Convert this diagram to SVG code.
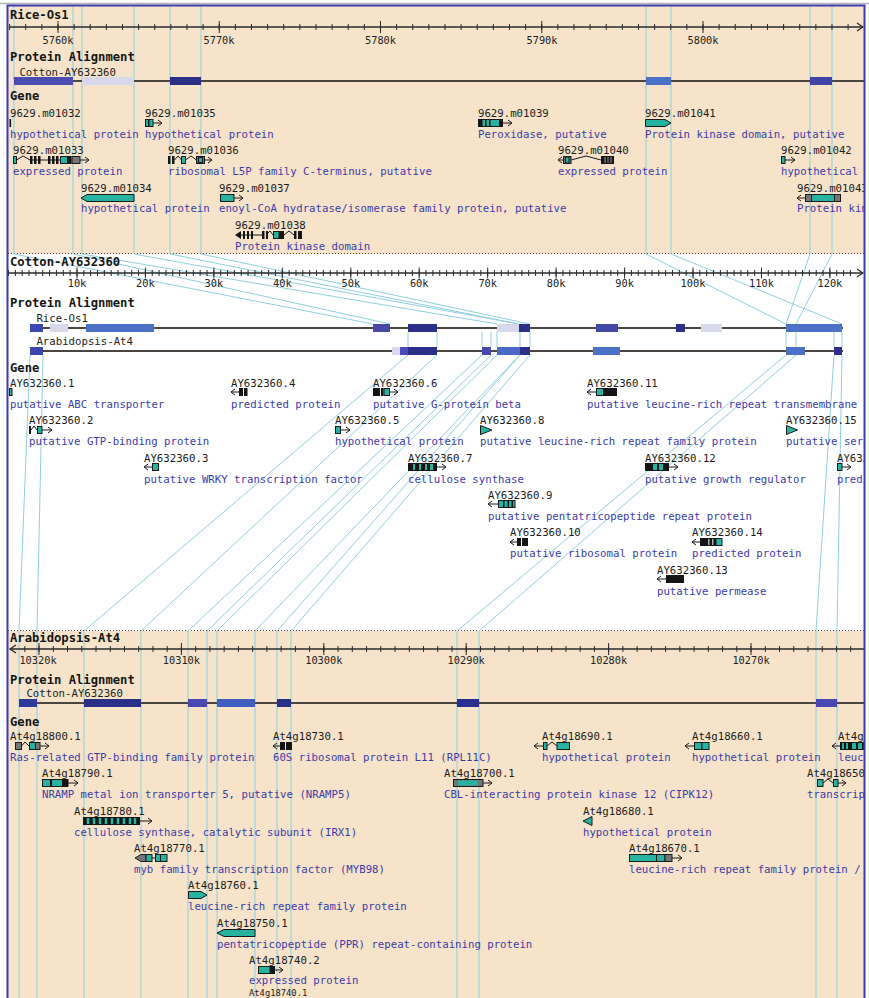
<svg xmlns="http://www.w3.org/2000/svg" width="869" height="998" viewBox="0 0 869 998">
<defs>
<style>
.lbl{font-family:"DejaVu Sans Mono",monospace;font-size:12.2px;font-weight:bold;fill:#141414}
.nm{font-family:"DejaVu Sans Mono",monospace;font-size:10.7px;fill:#1c1c1c}
.ds{font-family:"DejaVu Sans Mono",monospace;font-size:10.7px;fill:#3c3ca8}
.ax{font-family:"DejaVu Sans Mono",monospace;font-size:10.3px;fill:#222;text-anchor:middle}
.ex{fill:#27b3a2;stroke:#1a1a1a;stroke-width:1}
.bk{fill:#151515}
.gy{fill:#767676;stroke:#1a1a1a;stroke-width:1}
.ln{stroke:#1a1a1a;fill:none;stroke-width:1}
.axl{stroke:#2a2a2a;fill:none;stroke-width:1.3}
.tk{stroke:#2a2a2a;fill:none;stroke-width:1}
.al{stroke:#4a4540;stroke-width:2}
.cn{stroke:#8fd0e0;stroke-width:1;fill:none}
.sep{stroke:#444;stroke-width:1;stroke-dasharray:1 2}
</style>
<clipPath id="clip"><rect x="8" y="6" width="856" height="992"/></clipPath>
</defs>
<rect x="0" y="0" width="869" height="998" fill="#ffffff"/>
<line x1="0" y1="3.5" x2="869" y2="3.5" stroke="#b4b4b4" stroke-width="1.5"/>
<g id="backgrounds">
<rect x="8" y="6" width="856" height="248" fill="#f6e3c9"/>
<rect x="8" y="254" width="856" height="377" fill="#ffffff"/>
<rect x="8" y="631" width="856" height="367" fill="#f6e3c9"/>
<line class="sep" x1="8" y1="253.5" x2="864" y2="253.5"/>
<line class="sep" x1="8" y1="630.5" x2="864" y2="630.5"/>
</g>
<g id="connectors" class="cn">
<path d="M14 6V254M73 6V254M82 6V254M134 6V254M170 6V254M201 6V254M646 6V254M671 6V254M810 6V254M832 6V254"/>
<path d="M14 254L373 324M73 254L390 324M82 254L497 324M134 254L519 324M170 254L519 324M201 254L530 324M646 254L786 324M671 254L842 324M810 254L786 324M832 254L796 324"/>
<path d="M408 332V347M437 332V347M482 332V347M491 332V347M497 332V347M520 332V347M530 332V347M786 332V347M796 332V347M834 332V347M842 332V347"/>
<path d="M30 355L19 631M43 355L37 631M408 355L84 631M437 355L141 631M482 355L188 631M491 355L207 631M497 355L217 631M520 355L255 631M520 355L277 631M530 355L291 631M786 355L457 631M796 355L479 631M834 355L816 631M842 355L837 631"/>
<path d="M19 631V998M37 631V998M84 631V998M141 631V998M188 631V998M207 631V998M217 631V998M255 631V998M277 631V998M291 631V998M457 631V998M479 631V998M816 631V998M837 631V998"/>
</g>
<g clip-path="url(#clip)">
<g id="rice-panel">
<text class="lbl" x="10" y="19">Rice-Os1</text>
<line class="axl" x1="10" y1="27" x2="863" y2="27"/>
<path class="axl" d="M857 23L863 27L857 31"/>
<line x1="9.1" y1="27" x2="850" y2="27" stroke="#2a2a2a" stroke-width="6" stroke-dasharray="1 15.125"/>
<path class="tk" d="M58 21V33M219.25 21V33M380.5 21V33M541.75 21V33M703 21V33"/>
<text class="ax" x="58" y="44">5760k</text>
<text class="ax" x="219" y="44">5770k</text>
<text class="ax" x="380.5" y="44">5780k</text>
<text class="ax" x="542" y="44">5790k</text>
<text class="ax" x="703" y="44">5800k</text>
<text class="lbl" x="10" y="61">Protein Alignment</text>
<text class="nm" x="13" y="76">_Cotton-AY632360</text>
<line class="al" x1="14" y1="81" x2="864" y2="81"/>
<rect x="14" y="77" width="59" height="8" fill="#4a4cb2"/>
<rect x="82" y="77" width="52" height="8" fill="#d8d8ec"/>
<rect x="170" y="77" width="31" height="8" fill="#2c2f86"/>
<rect x="646" y="77" width="25" height="8" fill="#4b72c6"/>
<rect x="810" y="77" width="22" height="8" fill="#4244a8"/>
<text class="lbl" x="10" y="100">Gene</text>
</g>
<g id="rice-genes">
<g id="g9629.m01032"><text class="nm" x="10" y="117">9629.m01032</text><rect class="bk" x="9.5" y="119" width="1.6" height="8"/><text class="ds" x="10" y="138">hypothetical protein</text></g>
<g id="g9629.m01035"><text class="nm" x="145" y="117">9629.m01035</text><rect class="ex" x="145.5" y="119.5" width="7.5" height="7"/><rect class="bk" x="148" y="119.5" width="1.5" height="7"/><path class="ln" d="M153 123H162M158 120L162 123L158 126"/><text class="ds" x="145" y="138">hypothetical protein</text></g>
<g id="g9629.m01039"><text class="nm" x="478" y="117">9629.m01039</text><rect class="ex" x="478.5" y="119.5" width="24" height="7"/><rect class="bk" x="478.5" y="119.5" width="4" height="7"/><rect class="bk" x="485" y="119.5" width="1.5" height="7"/><rect class="bk" x="489" y="119.5" width="1.5" height="7"/><rect class="bk" x="499" y="119.5" width="3.5" height="7"/><path class="ln" d="M502.5 123H512M508 120L512 123L508 126"/><text class="ds" x="478" y="138">Peroxidase, putative</text></g>
<g id="g9629.m01041"><text class="nm" x="645" y="117">9629.m01041</text><polygon class="ex" points="645.5,119.5 665,119.5 671,123 665,126.5 645.5,126.5"/><text class="ds" x="645" y="138">Protein kinase domain, putative</text></g>
<g id="g9629.m01033"><text class="nm" x="13" y="154">9629.m01033</text><rect class="ex" x="13.5" y="156.5" width="3" height="7"/><path class="ln" d="M16.5 160L23 156L30 160H61"/><rect class="bk" x="30" y="156" width="2.5" height="8"/><rect class="bk" x="34" y="156" width="2.5" height="8"/><rect class="bk" x="38" y="156" width="2.5" height="8"/><rect class="bk" x="48" y="156" width="2.5" height="8"/><rect class="bk" x="52" y="156" width="2.5" height="8"/><rect class="bk" x="56" y="156" width="2.5" height="8"/><rect class="ex" x="60.5" y="156.5" width="7" height="7"/><rect class="bk" x="67.5" y="156" width="4" height="8"/><rect class="gy" x="72" y="156.5" width="8" height="7"/><path class="ln" d="M80 160H89M85 157L89 160L85 163"/><text class="ds" x="13" y="175">expressed protein</text></g>
<g id="g9629.m01036"><text class="nm" x="168" y="154">9629.m01036</text><rect class="bk" x="168" y="156" width="2.5" height="8"/><rect class="bk" x="172" y="156" width="2.5" height="8"/><path class="ln" d="M174.5 160L178 156L181.5 160M185.5 160L191 156L196.5 160"/><rect class="ex" x="181.5" y="156.5" width="4" height="7"/><rect class="gy" x="196.5" y="156.5" width="8" height="7"/><rect class="ex" x="198.5" y="157.5" width="4" height="5"/><path class="ln" d="M204.5 160H212M208 157L212 160L208 163"/><text class="ds" x="168" y="175">ribosomal L5P family C-terminus, putative</text></g>
<g id="g9629.m01040"><text class="nm" x="558" y="154">9629.m01040</text><path class="ln" d="M558 160H563M562 157L558 160L562 163M571 160L586 156L601 160"/><rect class="gy" x="563.5" y="156.5" width="7.5" height="7"/><rect class="ex" x="565.5" y="157" width="3.5" height="6"/><rect class="bk" x="601" y="156" width="13" height="8"/><path stroke="#9a9a9a" stroke-width="1" d="M605 157V163M608 157V163M611 157V163"/><text class="ds" x="558" y="175">expressed protein</text></g>
<g id="g9629.m01042"><text class="nm" x="781" y="154">9629.m01042</text><rect class="ex" x="781.5" y="156.5" width="3.5" height="7"/><path class="ln" d="M785 160H795M791 157L795 160L791 163"/><text class="ds" x="781" y="175">hypothetical</text></g>
<g id="g9629.m01034"><text class="nm" x="81" y="192">9629.m01034</text><polygon class="ex" points="87,194.5 134,194.5 134,201.5 87,201.5 81,198"/><text class="ds" x="81" y="212">hypothetical protein</text></g>
<g id="g9629.m01037"><text class="nm" x="219" y="192">9629.m01037</text><rect class="ex" x="220.5" y="194.5" width="13.5" height="7"/><path class="ln" d="M234 198H243M239 195L243 198L239 201"/><text class="ds" x="219" y="212">enoyl-CoA hydratase/isomerase family protein, putative</text></g>
<g id="g9629.m01043"><text class="nm" x="797" y="192">9629.m01043</text><path class="ln" d="M797 198H805M801 195L797 198L801 201"/><rect class="gy" x="805.5" y="194.5" width="6" height="7"/><rect class="ex" x="811.5" y="194.5" width="23" height="7"/><rect class="gy" x="834.5" y="194.5" width="6" height="7"/><text class="ds" x="797" y="212">Protein kin</text></g>
<g id="g9629.m01038"><text class="nm" x="235" y="229">9629.m01038</text><polygon class="bk" points="235,235 241,231 241,239"/><path class="ln" d="M241 235H262M266 235L270 231L273 235M284 235L289 231L294 235"/><rect class="bk" x="243" y="231" width="2" height="8"/><rect class="bk" x="247" y="231" width="2" height="8"/><rect class="bk" x="251" y="231" width="2" height="8"/><rect class="bk" x="262" y="231" width="2.5" height="8"/><rect class="bk" x="266" y="231" width="2" height="8"/><rect class="ex" x="273.5" y="231.5" width="5.5" height="7"/><rect class="bk" x="279" y="231" width="5" height="8"/><rect class="bk" x="294" y="231" width="2.5" height="8"/><rect class="bk" x="298" y="231" width="4" height="8"/><text class="ds" x="235" y="250">Protein kinase domain</text></g>
</g>
<g id="cotton-panel">
<text class="lbl" x="10" y="266">Cotton-AY632360</text>
<line class="axl" x1="9" y1="273" x2="863" y2="273"/>
<path class="axl" d="M857 269L863 273L857 277"/>
<line x1="8" y1="273" x2="852" y2="273" stroke="#2a2a2a" stroke-width="6" stroke-dasharray="1 5.845"/>
<path class="tk" d="M77 267.5V278.5M145.4 267.5V278.5M213.9 267.5V278.5M282.3 267.5V278.5M350.8 267.5V278.5M419.2 267.5V278.5M487.7 267.5V278.5M556.1 267.5V278.5M624.6 267.5V278.5M693 267.5V278.5M761.5 267.5V278.5M829.9 267.5V278.5"/>
<text class="ax" x="77" y="287">10k</text>
<text class="ax" x="145.4" y="287">20k</text>
<text class="ax" x="213.9" y="287">30k</text>
<text class="ax" x="282.3" y="287">40k</text>
<text class="ax" x="350.8" y="287">50k</text>
<text class="ax" x="419.2" y="287">60k</text>
<text class="ax" x="487.7" y="287">70k</text>
<text class="ax" x="556.1" y="287">80k</text>
<text class="ax" x="624.6" y="287">90k</text>
<text class="ax" x="693" y="287">100k</text>
<text class="ax" x="761.5" y="287">110k</text>
<text class="ax" x="829.9" y="287">120k</text>
<text class="lbl" x="10" y="307">Protein Alignment</text>
<text class="nm" x="30" y="322">_Rice-Os1</text>
<line class="al" x1="30" y1="328" x2="843" y2="328"/>
<rect x="30" y="324" width="13" height="8" fill="#3a48b0"/>
<rect x="50" y="324" width="18" height="8" fill="#d8d8ec"/>
<rect x="86" y="324" width="68" height="8" fill="#4b72c6"/>
<rect x="373" y="324" width="17" height="8" fill="#4848a8"/>
<rect x="408" y="324" width="29" height="8" fill="#2c2f8a"/>
<rect x="497" y="324" width="22" height="8" fill="#d8d8ec"/>
<rect x="519" y="324" width="11" height="8" fill="#2c2f8a"/>
<rect x="596" y="324" width="22" height="8" fill="#4448a8"/>
<rect x="676" y="324" width="9" height="8" fill="#2c2f8a"/>
<rect x="701" y="324" width="21" height="8" fill="#d8d8ec"/>
<rect x="786" y="324" width="56" height="8" fill="#4b72c6"/>
<text class="nm" x="30" y="345">_Arabidopsis-At4</text>
<line class="al" x1="30" y1="351" x2="843" y2="351"/>
<rect x="30" y="347" width="13" height="8" fill="#3c44b0"/>
<rect x="392" y="347" width="8" height="8" fill="#d8d8ec"/>
<rect x="400" y="347" width="8" height="8" fill="#4a4ab8"/>
<rect x="408" y="347" width="29" height="8" fill="#2c2f8a"/>
<rect x="482" y="347" width="9" height="8" fill="#4848b0"/>
<rect x="497" y="347" width="23" height="8" fill="#4a6ac8"/>
<rect x="520" y="347" width="10" height="8" fill="#2c2f8a"/>
<rect x="593" y="347" width="27" height="8" fill="#4b72c6"/>
<rect x="786" y="347" width="19" height="8" fill="#4b72c6"/>
<rect x="834" y="347" width="8" height="8" fill="#2c2f8a"/>
<text class="lbl" x="10" y="372">Gene</text>
</g>
<g id="cotton-genes">
<g id="gAY632360.1"><text class="nm" x="10" y="387">AY632360.1</text><rect class="ex" x="9.5" y="388.5" width="2.5" height="7"/><text class="ds" x="10" y="408">putative ABC transporter</text></g>
<g id="gAY632360.4"><text class="nm" x="231" y="387">AY632360.4</text><path class="ln" d="M231 392H239M235 389L231 392L235 395"/><rect class="bk" x="239" y="388" width="4" height="8"/><rect class="bk" x="244" y="388" width="3.5" height="8"/><text class="ds" x="231" y="408">predicted protein</text></g>
<g id="gAY632360.6"><text class="nm" x="373" y="387">AY632360.6</text><rect class="bk" x="373" y="388" width="7" height="8"/><rect class="bk" x="381" y="388" width="2.5" height="8"/><rect class="ex" x="384" y="388.5" width="5.5" height="7"/><path class="ln" d="M389.5 392H398M394 389L398 392L394 395"/><text class="ds" x="373" y="408">putative G-protein beta</text></g>
<g id="gAY632360.11"><text class="nm" x="587" y="387">AY632360.11</text><path class="ln" d="M587 392H596M591 389L587 392L591 395"/><rect class="ex" x="596.5" y="388.5" width="7" height="7"/><rect class="bk" x="603.5" y="388" width="13.5" height="8"/><text class="ds" x="587" y="408">putative leucine-rich repeat transmembrane p</text></g>
<g id="gAY632360.2"><text class="nm" x="29" y="424">AY632360.2</text><rect class="bk" x="29" y="426" width="2" height="8"/><path class="ln" d="M31 430L34 426L37 430"/><rect class="ex" x="37.5" y="426.5" width="4.5" height="7"/><path class="ln" d="M42 430H52M48 427L52 430L48 433"/><text class="ds" x="29" y="445">putative GTP-binding protein</text></g>
<g id="gAY632360.5"><text class="nm" x="335" y="424">AY632360.5</text><rect class="ex" x="335.5" y="426.5" width="5" height="7"/><path class="ln" d="M340.5 430H350M346 427L350 430L346 433"/><text class="ds" x="335" y="445">hypothetical protein</text></g>
<g id="gAY632360.8"><text class="nm" x="480" y="424">AY632360.8</text><polygon class="ex" points="480.5,425.5 492,430 480.5,434.5"/><text class="ds" x="480" y="445">putative leucine-rich repeat family protein</text></g>
<g id="gAY632360.15"><text class="nm" x="786" y="424">AY632360.15</text><polygon class="ex" points="786.5,425.5 797.5,430 786.5,434.5"/><text class="ds" x="786" y="445">putative ser</text></g>
<g id="gAY632360.3"><text class="nm" x="144" y="462">AY632360.3</text><path class="ln" d="M144 467H152M148 464L144 467L148 470"/><rect class="ex" x="152.5" y="463.5" width="6" height="7"/><text class="ds" x="144" y="483">putative WRKY transcription factor</text></g>
<g id="gAY632360.7"><text class="nm" x="408" y="462">AY632360.7</text><rect class="bk" x="408" y="463" width="29" height="8"/><rect fill="#27b3a2" x="413" y="464" width="2" height="6"/><rect fill="#27b3a2" x="419" y="464" width="2" height="6"/><rect fill="#27b3a2" x="425" y="464" width="2" height="6"/><rect fill="#27b3a2" x="430" y="464" width="3" height="6"/><path class="ln" d="M437 467H446M442 464L446 467L442 470"/><text class="ds" x="408" y="483">cellulose synthase</text></g>
<g id="gAY632360.12"><text class="nm" x="645" y="462">AY632360.12</text><rect class="bk" x="645" y="463" width="24" height="8"/><rect fill="#27b3a2" x="653" y="464" width="4" height="6"/><rect fill="#27b3a2" x="659" y="464" width="4" height="6"/><path class="ln" d="M669 467H678M674 464L678 467L674 470"/><text class="ds" x="645" y="483">putative growth regulator</text></g>
<g id="gAY632360.16"><text class="nm" x="837" y="462">AY632</text><rect class="ex" x="837.5" y="463.5" width="4.5" height="7"/><path class="ln" d="M842 467H851M847 464L851 467L847 470"/><text class="ds" x="837" y="483">predi</text></g>
<g id="gAY632360.9"><text class="nm" x="488" y="499">AY632360.9</text><path class="ln" d="M488 504H498M492 501L488 504L492 507"/><rect class="ex" x="498.5" y="500.5" width="16.5" height="7"/><rect class="bk" x="503" y="500.5" width="1.5" height="7"/><rect class="bk" x="507.5" y="500.5" width="1.5" height="7"/><rect class="bk" x="511.5" y="500.5" width="1.5" height="7"/><text class="ds" x="488" y="520">putative pentatricopeptide repeat protein</text></g>
<g id="gAY632360.10"><text class="nm" x="510" y="536">AY632360.10</text><path class="ln" d="M510 542H517M514 539L510 542L514 545"/><rect class="bk" x="517" y="538" width="4" height="8"/><rect class="bk" x="522" y="538" width="6" height="8"/><text class="ds" x="510" y="557">putative ribosomal protein</text></g>
<g id="gAY632360.14"><text class="nm" x="692" y="536">AY632360.14</text><path class="ln" d="M692 542H700M696 539L692 542L696 545"/><rect class="bk" x="700" y="538" width="16" height="8"/><rect fill="#b0b0b0" x="708" y="539" width="1.5" height="6"/><rect fill="#b0b0b0" x="712" y="539" width="1.5" height="6"/><rect class="ex" x="716" y="538.5" width="6" height="7"/><text class="ds" x="692" y="557">predicted protein</text></g>
<g id="gAY632360.13"><text class="nm" x="657" y="574">AY632360.13</text><path class="ln" d="M657 579H666M661 576L657 579L661 582"/><rect class="bk" x="666" y="575" width="18" height="8"/><text class="ds" x="657" y="595">putative permease</text></g>
</g>
<g id="arabidopsis-panel">
<text class="lbl" x="10" y="642">Arabidopsis-At4</text>
<line class="axl" x1="10" y1="649" x2="864" y2="649"/>
<path class="axl" d="M16 645L10 649L16 653"/>
<line x1="24.3" y1="649" x2="864" y2="649" stroke="#2a2a2a" stroke-width="6" stroke-dasharray="1 13.24"/>
<path class="tk" d="M39 643V655M181.4 643V655M323.8 643V655M466.2 643V655M608.6 643V655M751 643V655"/>
<text class="ax" x="38" y="664">10320k</text>
<text class="ax" x="181.4" y="664">10310k</text>
<text class="ax" x="323.8" y="664">10300k</text>
<text class="ax" x="466.2" y="664">10290k</text>
<text class="ax" x="608.6" y="664">10280k</text>
<text class="ax" x="751" y="664">10270k</text>
<text class="lbl" x="10" y="684">Protein Alignment</text>
<text class="nm" x="20" y="697">_Cotton-AY632360</text>
<line class="al" x1="19" y1="703" x2="864" y2="703"/>
<rect x="19" y="699" width="18" height="8" fill="#2e3a9c"/>
<rect x="84" y="699" width="57" height="8" fill="#2a2f88"/>
<rect x="188" y="699" width="19" height="8" fill="#4848b0"/>
<rect x="217" y="699" width="38" height="8" fill="#3f5ec0"/>
<rect x="277" y="699" width="14" height="8" fill="#2a2f88"/>
<rect x="457" y="699" width="22" height="8" fill="#2a2e90"/>
<rect x="816" y="699" width="21" height="8" fill="#4848b0"/>
<text class="lbl" x="10" y="726">Gene</text>
</g>
<g id="arabidopsis-genes">
<g id="gAt4g18800.1"><text class="nm" x="10" y="740">At4g18800.1</text><rect class="gy" x="15.5" y="742.5" width="6" height="7" fill="#6a9c94"/><path class="ln" d="M21.5 746L25 742L29 746M40 746H49M45 743L49 746L45 749"/><rect class="ex" x="29.5" y="742.5" width="6" height="7"/><rect class="gy" x="35.5" y="742.5" width="4.5" height="7"/><text class="ds" x="10" y="761">Ras-related GTP-binding family protein</text></g>
<g id="gAt4g18730.1"><text class="nm" x="273" y="740">At4g18730.1</text><path class="ln" d="M273 746H280M277 743L273 746L277 749"/><rect class="bk" x="280" y="742" width="5" height="8"/><rect class="bk" x="286" y="742" width="6" height="8"/><text class="ds" x="273" y="761">60S ribosomal protein L11 (RPL11C)</text></g>
<g id="gAt4g18690.1"><text class="nm" x="542" y="740">At4g18690.1</text><path class="ln" d="M534 746H543M538 743L534 746L538 749M547 746L552 742L557 746"/><rect class="ex" x="543.5" y="742.5" width="3.5" height="7"/><rect class="ex" x="557" y="742.5" width="12.5" height="7"/><text class="ds" x="542" y="761">hypothetical protein</text></g>
<g id="gAt4g18660.1"><text class="nm" x="692" y="740">At4g18660.1</text><path class="ln" d="M685 746H694M689 743L685 746L689 749"/><rect class="ex" x="694.5" y="742.5" width="7.5" height="7"/><rect class="ex" x="702" y="742.5" width="7" height="7"/><text class="ds" x="692" y="761">hypothetical protein</text></g>
<g id="gAt4g18640.1"><text class="nm" x="838" y="740">At4g</text><path class="ln" d="M832 746H840M836 743L832 746L836 749"/><rect class="bk" x="840" y="742" width="24" height="8"/><rect fill="#27b3a2" x="842" y="743" width="2" height="6"/><rect fill="#27b3a2" x="846" y="743" width="2" height="6"/><rect fill="#27b3a2" x="852" y="743" width="4" height="6"/><rect fill="#27b3a2" x="858" y="743" width="4" height="6"/><text class="ds" x="838" y="761">leuc</text></g>
<g id="gAt4g18790.1"><text class="nm" x="42" y="777">At4g18790.1</text><rect class="ex" x="42.5" y="779.5" width="25.5" height="7"/><rect class="bk" x="50" y="779.5" width="2" height="7"/><rect class="bk" x="62" y="779.5" width="6" height="7"/><path class="ln" d="M68 783H78M74 780L78 783L74 786"/><text class="ds" x="42" y="798">NRAMP metal ion transporter 5, putative (NRAMP5)</text></g>
<g id="gAt4g18700.1"><text class="nm" x="444" y="777">At4g18700.1</text><rect class="gy" x="453.5" y="779.5" width="29.5" height="7" fill="#505050"/><rect fill="#27b3a2" x="458" y="780.5" width="20" height="5"/><path class="ln" d="M483 783H492M488 780L492 783L488 786"/><text class="ds" x="444" y="798">CBL-interacting protein kinase 12 (CIPK12)</text></g>
<g id="gAt4g18650.1"><text class="nm" x="807" y="777">At4g18650</text><rect class="ex" x="817.5" y="779.5" width="5.5" height="7"/><path class="ln" d="M823 783L828 779L833 783M838 783H846M842 780L846 783L842 786"/><rect class="ex" x="833.5" y="779.5" width="4.5" height="7"/><text class="ds" x="807" y="798">transcrip</text></g>
<g id="gAt4g18780.1"><text class="nm" x="74" y="815">At4g18780.1</text><rect class="bk" x="83" y="817" width="57" height="8"/><path stroke="#27b3a2" stroke-width="2.5" d="M88 818V824M94 818V824M100 818V824M106 818V824M112 818V824M118 818V824M124 818V824M130 818V824M135 818V824"/><path class="ln" d="M140 821H152M148 818L152 821L148 824"/><text class="ds" x="74" y="836">cellulose synthase, catalytic subunit (IRX1)</text></g>
<g id="gAt4g18680.1"><text class="nm" x="583" y="815">At4g18680.1</text><polygon class="ex" points="583,821 592,816.5 592,825.5"/><text class="ds" x="583" y="836">hypothetical protein</text></g>
<g id="gAt4g18770.1"><text class="nm" x="134" y="852">At4g18770.1</text><polygon class="gy" points="135,858 141,854.5 146,854.5 146,861.5 141,861.5"/><rect class="ex" x="146" y="854.5" width="6" height="7"/><rect class="ex" x="155.5" y="854.5" width="11.5" height="7"/><path class="ln" d="M152 858H155.5M160.5 854.5V861.5"/><text class="ds" x="134" y="873">myb family transcription factor (MYB98)</text></g>
<g id="gAt4g18670.1"><text class="nm" x="629" y="852">At4g18670.1</text><rect class="ex" x="629.5" y="854.5" width="27" height="7"/><rect class="ex" x="656.5" y="854.5" width="8.5" height="7"/><rect class="gy" x="665" y="854.5" width="7" height="7" fill="#606060"/><path class="ln" d="M672 858H682M678 855L682 858L678 861"/><text class="ds" x="629" y="873">leucine-rich repeat family protein /</text></g>
<g id="gAt4g18760.1"><text class="nm" x="188" y="889">At4g18760.1</text><polygon class="ex" points="188.5,891.5 201,891.5 207,895 201,898.5 188.5,898.5"/><text class="ds" x="188" y="910">leucine-rich repeat family protein</text></g>
<g id="gAt4g18750.1"><text class="nm" x="217" y="927">At4g18750.1</text><polygon class="ex" points="217,933 224,929.5 255,929.5 255,936.5 224,936.5"/><text class="ds" x="217" y="948">pentatricopeptide (PPR) repeat-containing protein</text></g>
<g id="gAt4g18740.2"><text class="nm" x="249" y="964">At4g18740.2</text><rect class="ex" x="258.5" y="966.5" width="11.5" height="7"/><rect class="bk" x="270" y="966" width="5" height="8"/><path class="ln" d="M275 970H283M279 967L283 970L279 973"/><text class="ds" x="249" y="984">expressed protein</text></g>
<g id="gAt4g18740.1"><text class="nm" x="249" y="995.5" style="font-size:8.8px">At4g18740.1</text></g>
</g>
</g>
<rect x="7.5" y="5.5" width="857" height="998" fill="none" stroke="#3b3bb0" stroke-width="2"/>
</svg>
